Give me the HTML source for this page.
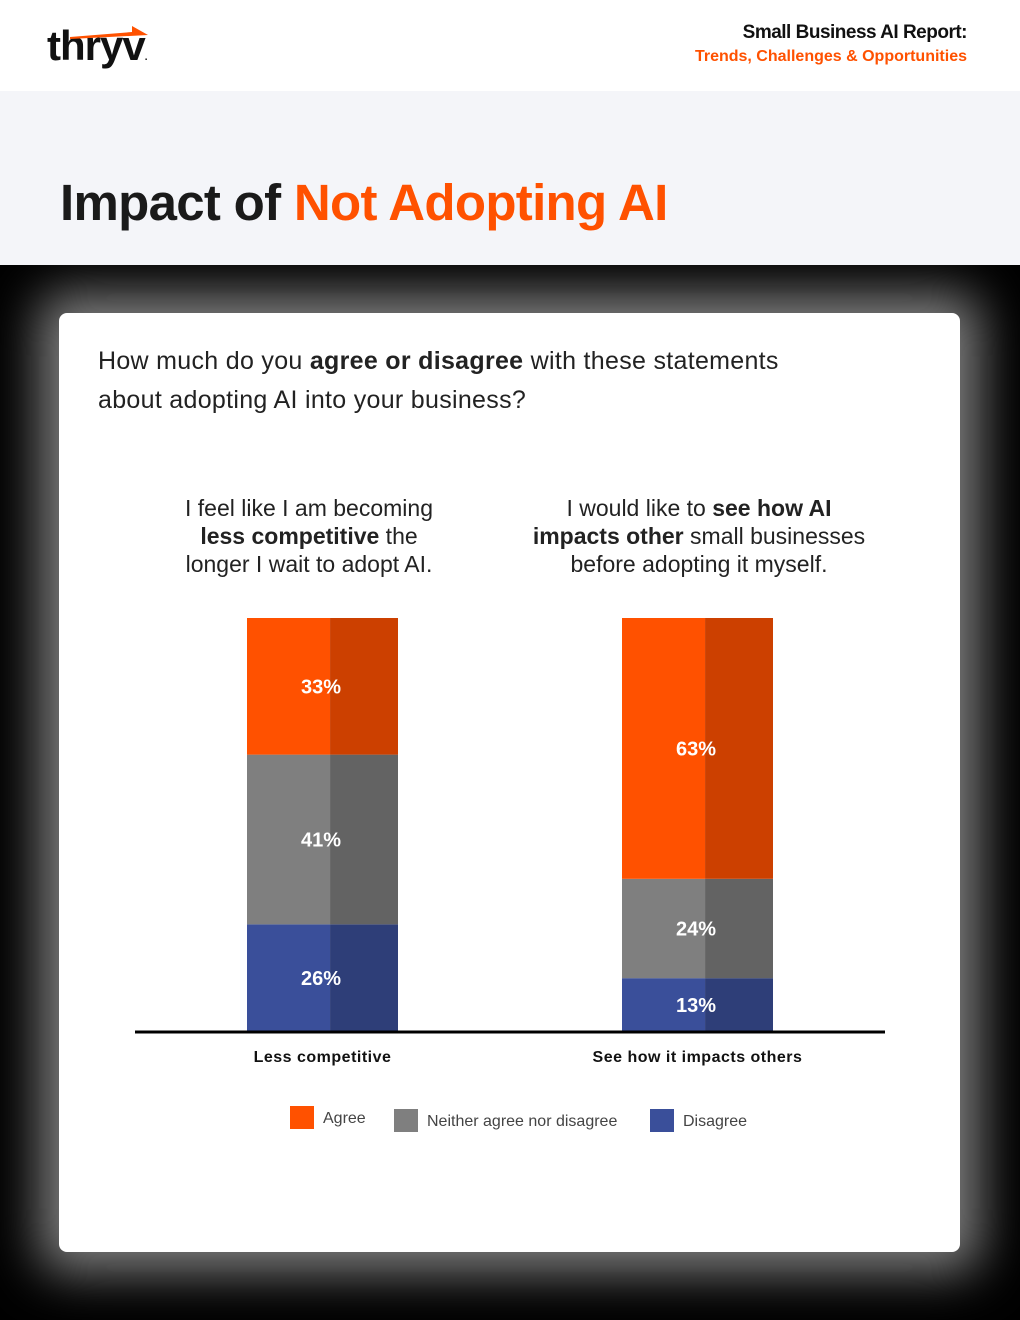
<!DOCTYPE html>
<html><head><meta charset="utf-8"><style>
body{margin:0;width:1020px;height:1320px;background:#000;position:relative;overflow:hidden;font-family:"Liberation Sans",sans-serif}
.hdr{position:absolute;left:0;top:0;width:1020px;height:91px;background:#fff}
.band{position:absolute;left:0;top:91px;width:1020px;height:174px;background:#f4f5f9}
.card{position:absolute;left:59px;top:313px;width:901px;height:939px;background:#fff;border-radius:8px;box-shadow:0 0 50px 20px rgba(255,255,255,0.5)}
</style></head><body>
<div class="hdr">
 <div style="position:absolute;left:47px;top:22px;font-weight:bold;font-size:42px;color:#111;letter-spacing:-1px">thryv<span style="font-size:10px">.</span></div>
 <svg style="position:absolute;left:70px;top:25px" width="80" height="14"><polygon points="0,12 62,7 62,1 78,10 0,14" fill="#ff5100"/></svg>
 <div style="position:absolute;right:53px;top:22px;text-align:right;font-weight:bold;font-size:19px;color:#111;letter-spacing:-0.5px">Small Business AI Report:</div>
 <div style="position:absolute;right:53px;top:48px;text-align:right;font-weight:bold;font-size:16px;color:#ff5100">Trends, Challenges &amp; Opportunities</div>
</div>
<div class="band">
 <div style="position:absolute;left:60px;top:82px;font-weight:bold;font-size:51px;color:#1a1a1a;letter-spacing:-0.7px">Impact of <span style="color:#ff5100">Not Adopting AI</span></div>
</div>
<div class="card">
 <div style="position:absolute;left:39px;top:29px;font-size:25px;line-height:39px;color:#222;letter-spacing:0.3px">How much do you <b>agree or disagree</b> with these statements<br>about adopting AI into your business?</div>
 <div style="position:absolute;left:100px;top:181px;width:300px;text-align:center;font-size:23px;line-height:28px;color:#222">I feel like I am becoming<br><b>less competitive</b> the<br>longer I wait to adopt AI.</div>
 <div style="position:absolute;left:450px;top:181px;width:380px;text-align:center;font-size:23px;line-height:28px;color:#222">I would like to <b>see how AI<br>impacts other</b> small businesses<br>before adopting it myself.</div>
</div>
<svg id="chart" style="position:absolute;left:0;top:0" width="1020" height="1320"></svg>
<script>
const categories=["Less competitive","See how it impacts others"];
const agree=[33,63];
const neither=[41,24];
const disagree=[26,13];
const seriesNames=["Agree","Neither agree nor disagree","Disagree"];
const NS="http://www.w3.org/2000/svg";
const svg=document.getElementById('chart');
const base=1032,h=414;
const y=v=>base-v/100*h;
const barX=[247,622],bw=151;
const light=["#ff5100","#7f7f7f","#3a4f9a"],dark=["#cc4000","#636363","#2e3e78"];
function mk(t,a){const e=document.createElementNS(NS,t);for(const k in a)e.setAttribute(k,a[k]);svg.appendChild(e);return e;}
categories.forEach((c,i)=>{
 const vals=[disagree[i],neither[i],agree[i]];const cols=[2,1,0];
 let cum=0;
 vals.forEach((v,j)=>{
  const y1=y(cum+v),y0=y(cum);
  const r1=mk('rect',{x:barX[i],y:y1,width:bw*0.55,height:y0-y1,fill:light[cols[j]]});
  
  
  const r2=mk('rect',{x:barX[i]+bw*0.55,y:y1,width:bw*0.45,height:y0-y1,fill:dark[cols[j]]});
  
  
  const t=mk('text',{x:barX[i]+bw*0.49,y:(y1+y0)/2+7,'text-anchor':'middle','font-size':20,'font-weight':'bold',fill:'#fff'});
  t.textContent=v+'%';
  
  
  cum+=v;
 });
 const l=mk('text',{x:barX[i]+bw/2,y:1062,'text-anchor':'middle','font-size':16,'font-weight':'bold',fill:'#111','letter-spacing':'0.5'});
 l.textContent=c;
 
 
});
const ax=mk('line',{x1:135,x2:885,y1:1032,y2:1032,stroke:'#000','stroke-width':3});


const lx=[290,394,650],ly=[1106,1109,1109];
seriesNames.forEach((n,k)=>{
 const r=mk('rect',{x:lx[k],y:ly[k],width:24,height:23,fill:light[k]});
 
 
 const t=mk('text',{x:lx[k]+33,y:ly[k]+17,'font-size':16,fill:'#444'});
 t.textContent=n;
 
 
});
</script>
</body></html>
